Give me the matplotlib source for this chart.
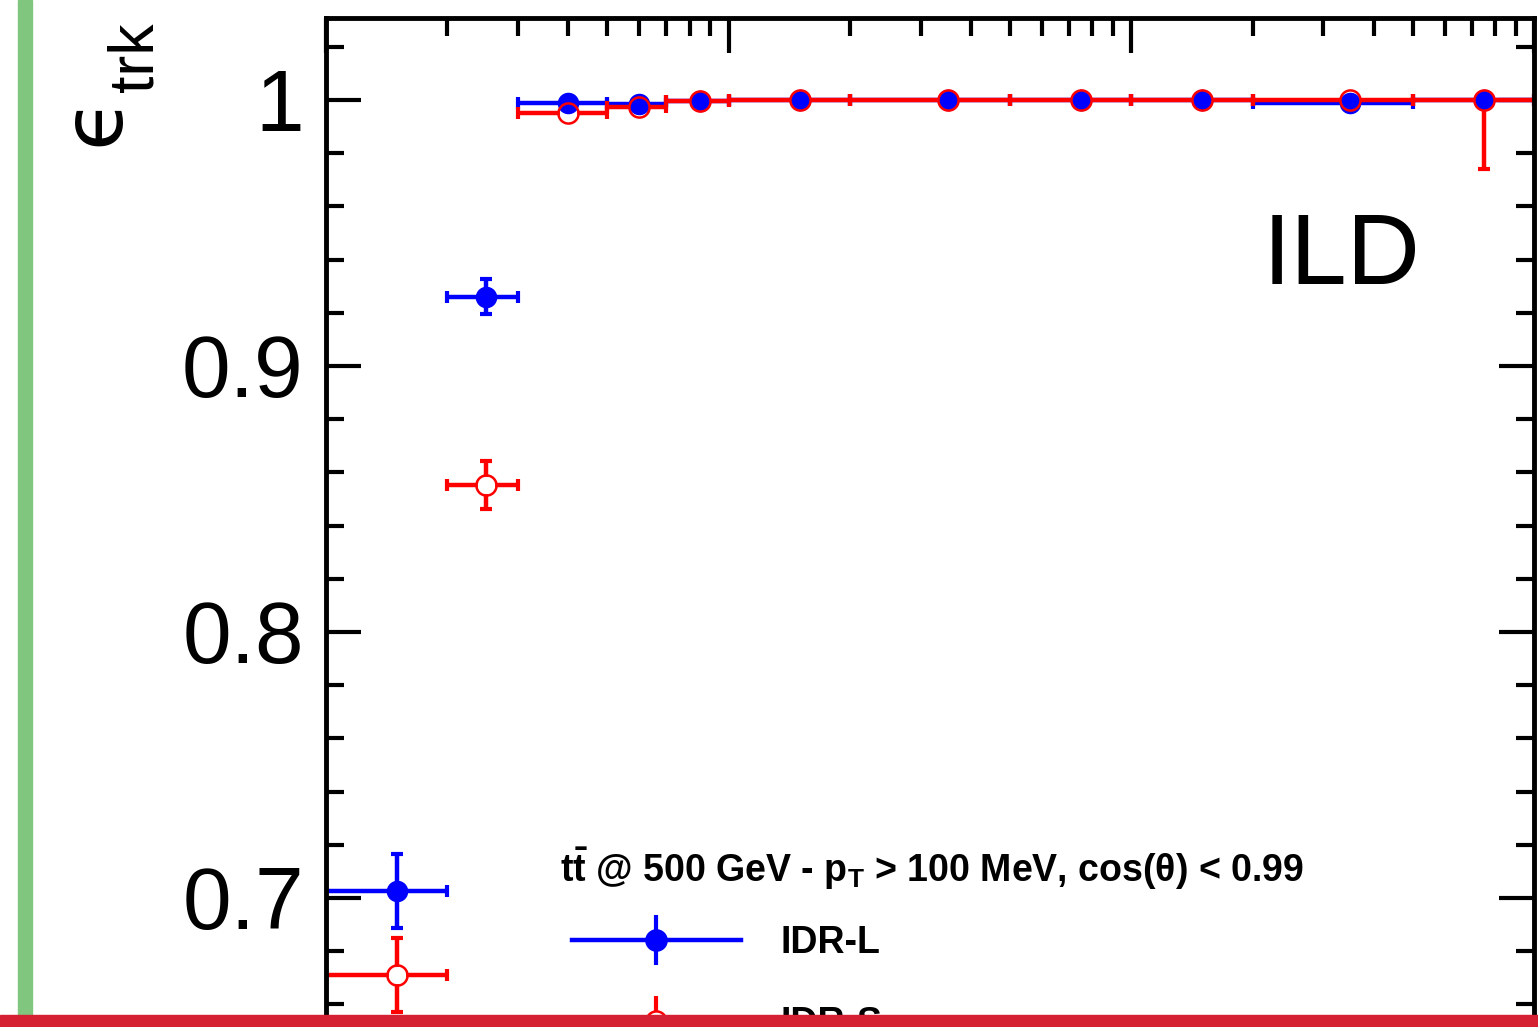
"""Tracking efficiency vs momentum, IDR-L vs IDR-S (cropped ROOT-style view)"""

import matplotlib
matplotlib.use("Agg")
import matplotlib.pyplot as plt
from matplotlib.font_manager import FontProperties
from matplotlib.lines import Line2D
from matplotlib.legend_handler import HandlerTuple
import numpy

plt.rcParams['font.family'] = ['Liberation Sans', 'DejaVu Sans']
plt.rcParams['mathtext.fontset'] = 'custom'
plt.rcParams['mathtext.rm'] = 'Liberation Sans:bold'
plt.rcParams['mathtext.it'] = 'Liberation Sans:bold:italic'
plt.rcParams['mathtext.bf'] = 'Liberation Sans:bold'

# momentum bins (GeV)
bin_edges = [0.1, 0.2, 0.3, 0.5, 0.7, 1.0, 2.0, 5.0, 10.0, 20.0, 50.0, 100.0]
bin_centers = [0.15, 0.25, 0.4, 0.6, 0.85, 1.5, 3.5, 7.5, 15.0, 35.0, 75.0]

eff_idr_l = [0.7026, 0.926, 0.9989, 0.9985, 0.9995, 0.9998, 0.9998,
             0.9998, 0.9998, 0.9989, 0.9998]
err_idr_l = [0.014, 0.0066, 0.0004, 0.0004, 0.0002, 0.0001, 0.0001,
             0.0001, 0.0001, 0.0003, 0.0002]
eff_idr_s = [0.671, 0.8553, 0.9951, 0.9975, 0.9995, 0.9998, 0.9998,
             0.9998, 0.9998, 0.9998, 0.9998]
err_idr_s_lo = [0.014, 0.009, 0.0006, 0.0005, 0.0003, 0.0001, 0.0001,
                0.0001, 0.0001, 0.0002, 0.0256]
err_idr_s_hi = [0.014, 0.009, 0.0006, 0.0005, 0.0003, 0.0001, 0.0001,
                0.0001, 0.0001, 0.0002, 0.0002]

legend_header = (r"t$\bar{\mathrm{t}}$ @ 500 GeV - p$_{\mathrm{T}}$ > 100 MeV,"
                 " cos(\u03b8) < 0.99")

BLUE = '#0000ff'
RED = '#ff0000'

W, H = 1538, 1027
fig = plt.figure(figsize=(W / 100., H / 100.), dpi=100)

# axes box in pixels: left 326, right 1534, top 18; bottom lies below the crop
ylo, yhi = 0.6, 1.0308
px_per_unit = 2660.
ax_bottom_px = 18 + (yhi - ylo) * px_per_unit
ax = fig.add_axes([326. / W, 1 - ax_bottom_px / H, (1534. - 326.) / W,
                   (ax_bottom_px - 18.) / H])

x = numpy.array(bin_centers)
edges = numpy.array(bin_edges)
xerr = numpy.vstack([x - edges[:-1], edges[1:] - x])

lw = 3.2
ms = 14.5
# ROOT look: red bars over blue bars, markers on top, open circles hollow
ax.errorbar(x, eff_idr_l, xerr=xerr, yerr=err_idr_l, fmt='none',
            ecolor=BLUE, lw=lw, capsize=4, capthick=3, zorder=2)
ax.errorbar(x, eff_idr_s, xerr=xerr, yerr=[err_idr_s_lo, err_idr_s_hi],
            fmt='none', ecolor=RED, lw=lw, capsize=4, capthick=3, zorder=2.2)
ax.plot(x, eff_idr_s, 'o', mfc='white', mec='none', ms=ms - 2, zorder=2.5)
ax.plot(x, eff_idr_l, 'o', color=BLUE, ms=ms, zorder=3)
ax.plot(x, eff_idr_s, 'o', mfc='none', mec=RED, mew=1.8, ms=ms, zorder=4)

ax.set_xscale('log')
ax.set_xlim(0.1, 100)
ax.set_ylim(ylo, yhi)
ax.set_yticks([0.7, 0.8, 0.9, 1.0])
ax.set_yticklabels(['0.7', '0.8', '0.9', '1'])
ax.set_yticks(numpy.arange(0.62, 1.03, 0.02), minor=True)
ax.tick_params(which='both', direction='in', top=True, right=True, width=3,
               labelsize=63, pad=16)
ax.tick_params(which='major', length=25)
ax.tick_params(which='minor', length=13)
ax.tick_params(axis='x', labelbottom=False)
for s in ax.spines.values():
    s.set_linewidth(3.5)

# y title "epsilon_trk", ROOT puts the subscript well below the symbol
fig.text(118. / W, 1 - 146. / H, '\u03f5', family='DejaVu Sans', fontsize=60,
         rotation=90, rotation_mode='anchor', ha='left', va='baseline')
fig.text(153. / W, 1 - 92. / H, 'trk', fontsize=45, rotation=90,
         rotation_mode='anchor', ha='left', va='baseline')

ax.text((1263 - 326) / 1208., (ax_bottom_px - 284) / (ax_bottom_px - 18),
        'ILD', transform=ax.transAxes, fontsize=73, va='baseline', ha='left')

# legend: header line plus ROOT-like keys (long line, vertical bar, marker)
fig.text(560. / W, 1 - 882. / H, legend_header, fontsize=27,
         fontweight='bold', va='baseline', ha='left')

def key(color, filled):
    bar = Line2D([], [], color=color, marker='|', ms=36, mew=3, ls='-',
                 lw=3.2)
    dot = Line2D([], [], color=color, marker='o', ms=ms, ls='none',
                 mfc=color if filled else 'white', mec=color, mew=1.8)
    return (bar, dot)

leg = fig.legend([key(BLUE, True), key(RED, False)], ['IDR-L', 'IDR-S'],
                 loc='upper left', bbox_to_anchor=(572. / W, 1 - 925. / H),
                 bbox_transform=fig.transFigure, frameon=False,
                 handler_map={tuple: HandlerTuple(ndivide=1)},
                 prop=FontProperties(family='Liberation Sans', weight='bold',
                                     size=27),
                 handlelength=4.5, handletextpad=1.05, labelspacing=1.2,
                 borderaxespad=0, borderpad=0)

# frame strips of the cropped page
fig.patches.append(plt.Rectangle((18. / W, 0), 14. / W, 1,
                                 transform=fig.transFigure, color='#80c67f',
                                 zorder=10))
fig.patches.append(plt.Rectangle((0, 0), 1, 12. / H,
                                 transform=fig.transFigure, color='#d51f32',
                                 zorder=10))

fig.savefig('out.png', dpi=100)
